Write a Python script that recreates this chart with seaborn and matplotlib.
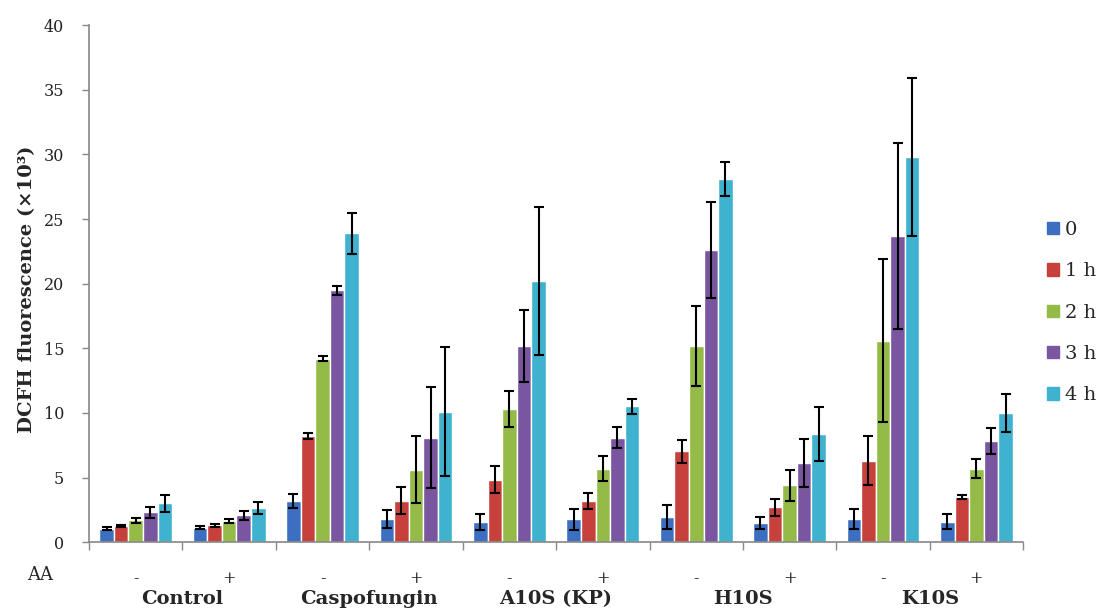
import numpy as np
import pandas as pd
import matplotlib
matplotlib.use("Agg")
import matplotlib.pyplot as plt
import matplotlib.transforms as mtransforms
import seaborn as sns

# groups along the x axis: compound, with/without ascorbic acid
compounds = ["Control", "Caspofungin", "A10S (KP)", "H10S", "K10S"]
aa_signs = ["-", "+"]
timepoints = ["0", "1 h", "2 h", "3 h", "4 h"]
colors = ["#3C6FBF", "#C6403C", "#94BA48", "#7A55A0", "#3FB2CF"]

# mean DCFH fluorescence (x10^3), one list per time point, in group order
vals_0h = [1.06, 1.13, 3.17, 1.83, 1.57, 1.78, 1.96, 1.50, 1.80, 1.60]
vals_1h = [1.24, 1.30, 8.20, 3.20, 4.85, 3.20, 7.04, 2.70, 6.30, 3.50]
vals_2h = [1.70, 1.65, 14.2, 5.60, 10.3, 5.70, 15.2, 4.40, 15.6, 5.70]
vals_3h = [2.30, 2.10, 19.5, 8.10, 15.2, 8.10, 22.6, 6.10, 23.7, 7.80]
vals_4h = [3.00, 2.65, 23.9, 10.1, 20.2, 10.5, 28.1, 8.35, 29.8, 10.0]

# error (half-height of the bar whiskers)
err_0h = [0.10, 0.10, 0.55, 0.70, 0.60, 0.80, 0.90, 0.45, 0.80, 0.60]
err_1h = [0.10, 0.10, 0.25, 1.05, 1.05, 0.60, 0.90, 0.65, 1.90, 0.15]
err_2h = [0.20, 0.15, 0.20, 2.60, 1.40, 0.95, 3.10, 1.20, 6.30, 0.70]
err_3h = [0.40, 0.35, 0.35, 3.90, 2.80, 0.80, 3.70, 1.85, 7.20, 1.00]
err_4h = [0.65, 0.45, 1.60, 5.00, 5.70, 0.60, 1.30, 2.10, 6.10, 1.50]

values = [vals_0h, vals_1h, vals_2h, vals_3h, vals_4h]
errors = [err_0h, err_1h, err_2h, err_3h, err_4h]

groups = [f"{c} {s}" for c in compounds for s in aa_signs]
rows = []
for t, vals in zip(timepoints, values):
    for g, v in zip(groups, vals):
        rows.append({"group": g, "time": t, "value": v})
df = pd.DataFrame(rows)

sns.set_style("white")
plt.rcParams["font.family"] = ["DejaVu Serif"]

fig = plt.figure(figsize=(10.99, 6.12), dpi=100)
ax = fig.add_axes([0.081, 0.114, 0.850, 0.845])

sns.barplot(data=df, x="group", y="value", hue="time", order=groups,
            hue_order=timepoints, palette=colors, width=0.78,
            errorbar=None, saturation=1, ax=ax)

# whiskers on each bar
for cont, errs in zip(ax.containers, errors):
    xs = [b.get_x() + b.get_width() / 2 for b in cont]
    ys = [b.get_height() for b in cont]
    ax.errorbar(xs, ys, yerr=errs, fmt="none", ecolor="black",
                elinewidth=1.5, capsize=3.5, capthick=1.5, zorder=5)

ax.set_xlim(-0.5, len(groups) - 0.5)
ax.set_ylim(0, 40)
ax.set_yticks(np.arange(0, 41, 5))
ax.tick_params(axis="y", labelsize=11.5, length=5, width=1, color="#888888",
               direction="out", left=True, pad=13, labelcolor="#222222")

ax.set_xticks(range(len(groups)))
ax.set_xticklabels([s for c in compounds for s in aa_signs], fontsize=11.5)
ax.set_xticks(np.arange(-0.5, len(groups), 1), minor=True)
ax.tick_params(axis="x", which="major", length=0, pad=20)
ax.tick_params(axis="x", which="minor", length=6, width=1, color="#888888",
               bottom=True)

for name in ["top", "right"]:
    ax.spines[name].set_visible(False)
for name in ["left", "bottom"]:
    ax.spines[name].set_color("#888888")
    ax.spines[name].set_linewidth(1.2)

ax.set_xlabel("")
ax.set_ylabel("DCFH fluorescence (×10³)", fontsize=14, fontweight="bold")
ax.yaxis.set_label_coords(-0.057, 0.49)

# compound names under each pair
trans = mtransforms.blended_transform_factory(ax.transData, fig.transFigure)
for i, c in enumerate(compounds):
    ax.text(2 * i + 0.5, 1 - 599 / 612, c, transform=trans,
            ha="center", va="center", fontsize=14, fontweight="bold")
fig.text(0.025, 1 - 575 / 612, "AA", ha="left", va="center", fontsize=13)

handles = [plt.Rectangle((0, 0), 1, 1, color=c) for c in colors]
ax.legend(handles=handles, labels=timepoints, loc="center left",
          bbox_to_anchor=(0.937, 0.489), bbox_transform=fig.transFigure,
          frameon=False, fontsize=14, handlelength=0.6, handleheight=0.6,
          handletextpad=0.3, labelspacing=1.2)

fig.savefig("out.png", dpi=100)
